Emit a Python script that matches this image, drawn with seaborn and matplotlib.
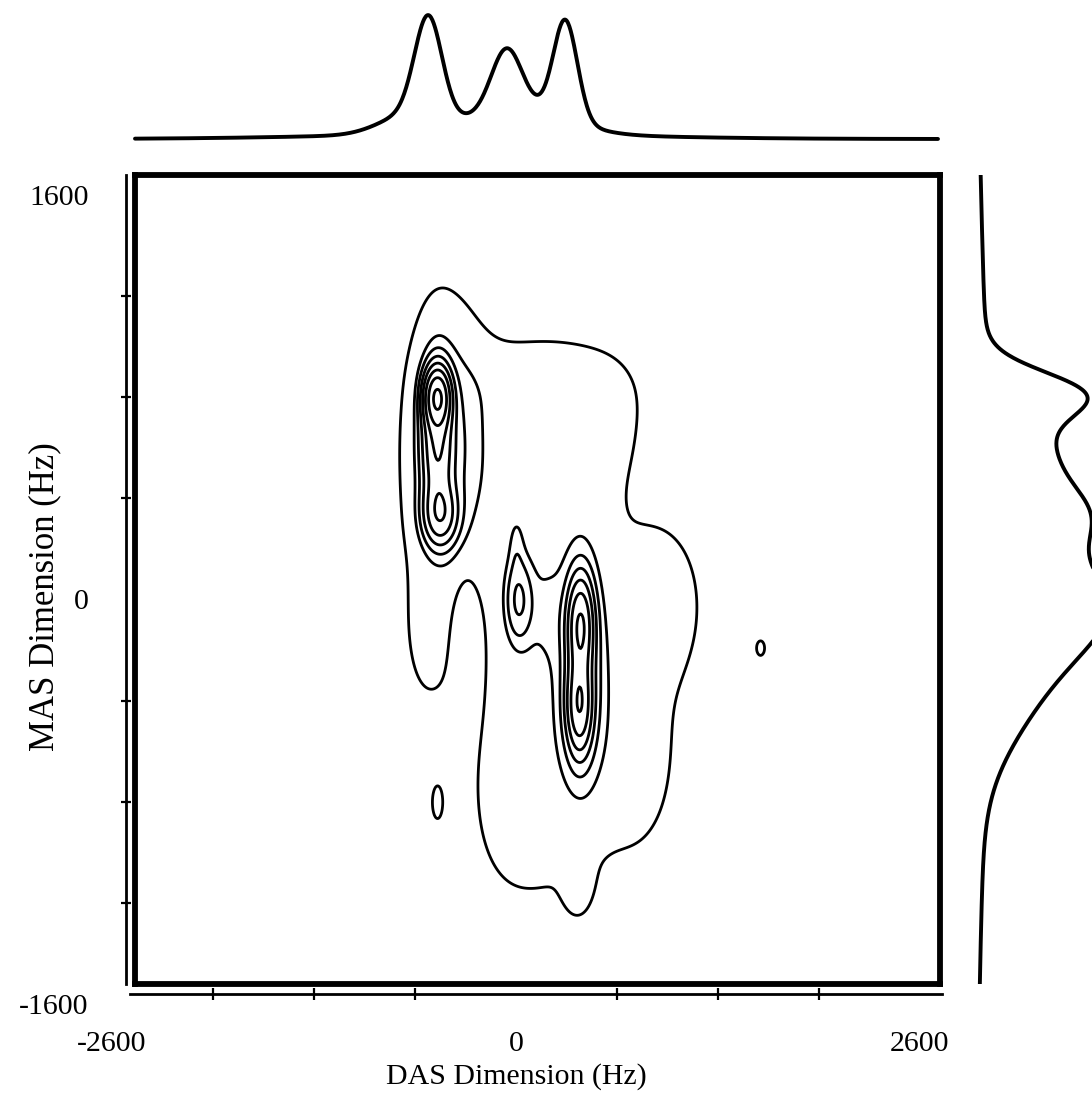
import numpy as np
import matplotlib
matplotlib.use("Agg")
import matplotlib.pyplot as plt
import seaborn as sns

# ---------------- data (Hz) ----------------
# 2D spectrum: peak components
pk_x   = [-508, -586, 219, 605, 978, 122, 637, 399, 798,
          -508, -508, -489, -412, 13, 412, 405, 425, 187, 1570, -508,
          -328, -71, 219, 0]
pk_y   = [512, -161, 591, 729, -3, -557, -478, -1130, -675,
          801, 631, 334, 591, -3, -102, -418, -260, -42, -193, -806,
          -121, -853, 868, 215]
pk_sx  = [257, 97, 451, 161, 180, 290, 386, 64, 161,
          51, 64, 71, 142, 58, 51, 51, 97, 97, 32, 26,
          64, 142, 354, 32]
pk_sy  = [791, 178, 356, 158, 218, 594, 514, 87, 237,
          71, 178, 79, 277, 111, 119, 119, 297, 138, 36, 51,
          198, 198, 119, 79]
pk_amp = [1.2, 0.5, 1.2, 0.5, 1.1, 1.15, 1.15, 0.8, 0.5,
          20, 9, 7.5, 1.8, 4.0, 14, 13, 3, 1.0, 1.3, 1.3,
          -0.8, 0.6, 0.8, 1.0]
contour_levels = [1.0, 2.2, 3.3, 5.0, 7.5, 11.3, 17.0, 25.5]

# top projection (DAS dimension)
top_pos    = [-566, -64, 315, 26, -682, -232]
top_width  = [87.5, 96.5, 77, 290, 193, 965]
top_height = [99, 59, 98, 28, 20, 5]

# right projection (MAS dimension)
right_pos    = [156, 817, 591, 334, 5, -330]
right_width  = [989, 87, 178, 119, 198, 237]
right_height = [12, 72, 60, 55, 100, 45]

x_ticks_major = [-2600, 0, 2600]
x_ticks_minor = [-1950, -1300, -650, 0, 650, 1300, 1950, 2600]
y_ticks_major = [-1600, 0, 1600]
y_ticks_minor = [-1200, -800, -400, 0, 400, 800, 1200, 1600]
x_label = "DAS Dimension (Hz)"
y_label = "MAS Dimension (Hz)"

XLIM = (-2452, 2723)
YLIM = (-1522, 1679)

# ---------------- build ----------------
sns.set_theme(style="white")
plt.rcParams["font.family"] = ["Liberation Serif", "DejaVu Serif"]
plt.rcParams["text.color"] = "black"
plt.rcParams["xtick.color"] = "black"
plt.rcParams["ytick.color"] = "black"

W, H = 1092, 1108
fig = plt.figure(figsize=(W / 100, H / 100), dpi=100)


def rect(x0, y0, x1, y1):
    return [x0 / W, 1 - y1 / H, (x1 - x0) / W, (y1 - y0) / H]


ax = fig.add_axes(rect(135, 175, 940, 984))
gx = np.linspace(XLIM[0], XLIM[1], 700)
gy = np.linspace(YLIM[0], YLIM[1], 700)
GX, GY = np.meshgrid(gx, gy)
Z = np.zeros_like(GX)
for cx, cy, sx, sy, a in zip(pk_x, pk_y, pk_sx, pk_sy, pk_amp):
    Z += a * np.exp(-0.5 * (((GX - cx) / sx) ** 2 + ((GY - cy) / sy) ** 2))
ax.contour(GX, GY, Z, levels=contour_levels, colors="black", linewidths=2.0)
ax.set_xlim(*XLIM)
ax.set_ylim(*YLIM)
ax.set_xticks([])
ax.set_yticks([])
for s in ax.spines.values():
    s.set_visible(True)
    s.set_color("black")
    s.set_linewidth(4.2)
ax.set_facecolor("none")

# bottom axis line with ticks
axb = fig.add_axes(rect(112, 993, 942, 993.5))
axb.set_xlim(-2600, 2742)
axb.set_ylim(0, 1)
axb.patch.set_visible(False)
for k in ["top", "left", "right"]:
    axb.spines[k].set_visible(False)
axb.spines["bottom"].set_linewidth(2.0)
axb.spines["bottom"].set_color("black")
axb.spines["bottom"].set_bounds(-2484, 2742)
axb.set_yticks([])
axb.set_xticks(x_ticks_major)
axb.set_xticklabels([str(v) for v in x_ticks_major], fontsize=21.5, color="black")
axb.set_xticks(x_ticks_minor, minor=True)
axb.tick_params(axis="x", which="major", length=0, pad=27, colors="black")
axb.tick_params(axis="x", which="minor", direction="inout", length=8, width=1.6,
                color="black", bottom=True)

# left axis line with ticks
axl = fig.add_axes(rect(126, 175, 126.5, 1004))
axl.set_ylim(-1600, 1679)
axl.set_xlim(0, 1)
axl.patch.set_visible(False)
for k in ["top", "bottom", "right"]:
    axl.spines[k].set_visible(False)
axl.spines["left"].set_linewidth(2.0)
axl.spines["left"].set_color("black")
axl.spines["left"].set_bounds(-1522, 1679)
axl.set_xticks([])
axl.set_yticks(y_ticks_major)
axl.set_yticklabels([str(v) for v in y_ticks_major], fontsize=21.5, color="black")
axl.set_yticks(y_ticks_minor, minor=True)
axl.tick_params(axis="y", which="major", length=0, pad=27, colors="black")
axl.tick_params(axis="y", which="minor", direction="inout", length=7, width=1.6,
                color="black", left=True)

# top projection
axt = fig.add_axes(rect(135, 0, 940, 145))
tx = np.linspace(-2465, 2710, 1200)
ty = np.zeros_like(tx)
for c, w, h in zip(top_pos, top_width, top_height):
    ty += h * np.exp(-0.5 * ((tx - c) / w) ** 2)
sns.lineplot(x=tx, y=ty, ax=axt, color="black", linewidth=2.8, sort=False, estimator=None)
axt.set_xlim(*XLIM)
axt.set_ylim(-6, 139)
axt.axis("off")
axt.lines[0].set_clip_on(False)

# right projection
axr = fig.add_axes(rect(970, 175, 1100, 984))
ry = np.linspace(YLIM[1], YLIM[0], 1200)
rx = np.zeros_like(ry)
for c, w, h in zip(right_pos, right_width, right_height):
    rx += h * np.exp(-0.5 * ((ry - c) / w) ** 2)
sns.lineplot(x=rx, y=ry, ax=axr, color="black", linewidth=2.8, sort=False,
             estimator=None, orient="y")
axr.set_ylim(*YLIM)
axr.set_xlim(-7, 123)
axr.axis("off")

fig.text(516 / W, 1 - 1077 / H, x_label, ha="center", va="center", fontsize=21.5)
fig.text(45 / W, 1 - 597 / H, y_label, ha="center", va="center", rotation=90, fontsize=25)

fig.savefig("out.png", dpi=100, facecolor="white")
